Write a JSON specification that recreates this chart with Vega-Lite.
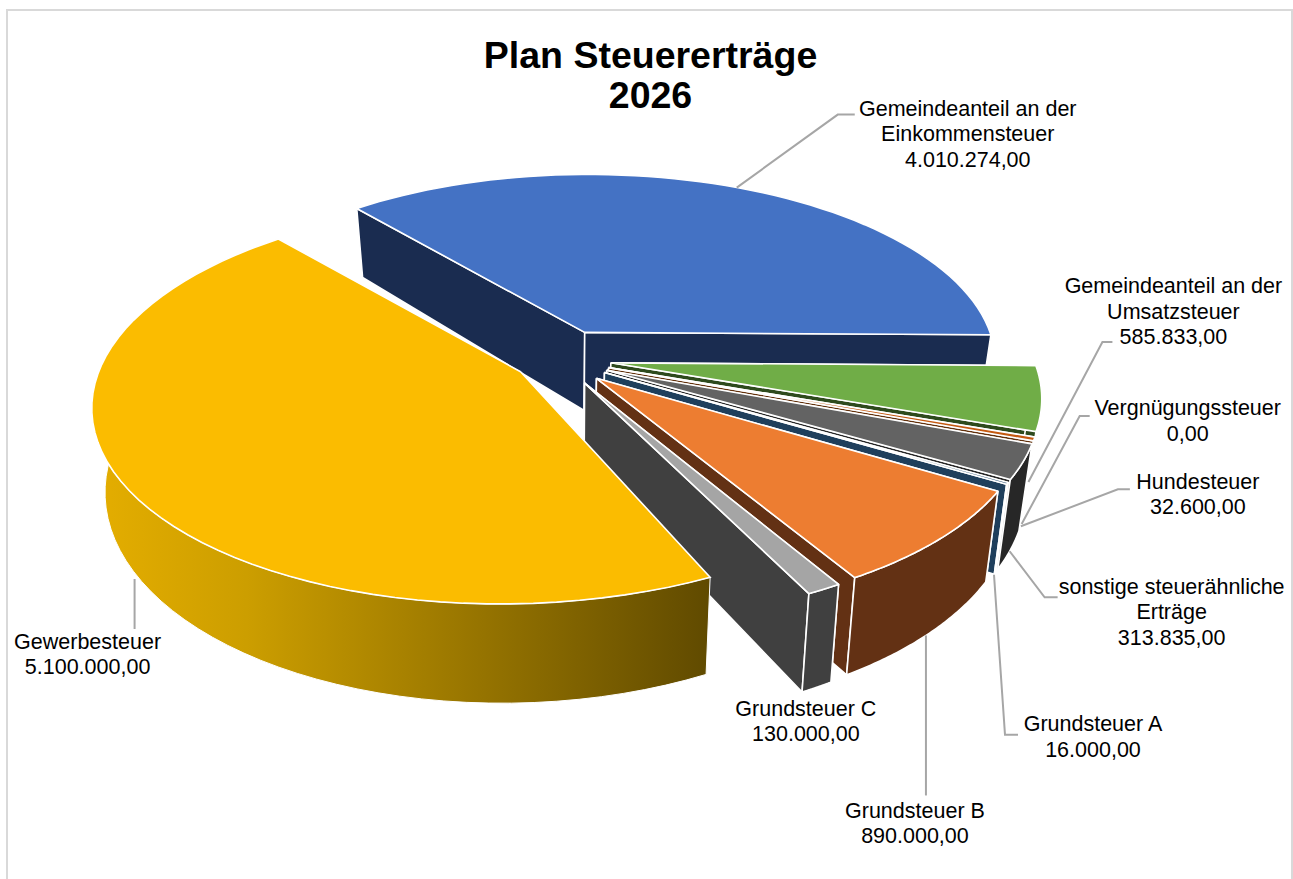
{
"$schema":"https://vega.github.io/schema/vega-lite/v6.json",
"width":1285,"height":871,
"autosize":{"type":"none"},
"padding":{"left":7,"top":10,"right":1,"bottom":-2},
"background":"white",
"config":{"view":{"stroke":"#d9d9d9","strokeWidth":2},"locale":{"number":{"decimal":",","thousands":".","grouping":[3],"currency":["","€"]}}},
"title":{"text":["Plan Steuererträge","2026"],"font":"Liberation Sans","fontSize":37.5,"fontWeight":"bold","color":"#000000","anchor":"middle","frame":"group","baseline":"top","lineHeight":40,"offset":0,"dx":1,"dy":105},
"params":[
{"name":"cx","value":565},{"name":"cy","value":352},{"name":"rx","value":405.6},{"name":"ry","value":188.6},
{"name":"k","value":0.18},{"name":"e","value":0.15},{"name":"h","value":80},{"name":"lean","value":0.028},{"name":"startDeg","value":-38},{"name":"N","value":60}
],
"data":{"values":[
{"name":"Gemeindeanteil an der Einkommensteuer","label":"Gemeindeanteil an der\nEinkommensteuer","value":4010274},
{"name":"Gemeindeanteil an der Umsatzsteuer","label":"Gemeindeanteil an der\nUmsatzsteuer","value":585833},
{"name":"Vergnügungssteuer","label":"Vergnügungssteuer","value":0},
{"name":"Hundesteuer","label":"Hundesteuer","value":32600},
{"name":"sonstige steuerähnliche Erträge","label":"sonstige steuerähnliche\nErträge","value":313835},
{"name":"Grundsteuer A","label":"Grundsteuer A","value":16000},
{"name":"Grundsteuer B","label":"Grundsteuer B","value":890000},
{"name":"Grundsteuer C","label":"Grundsteuer C","value":130000},
{"name":"Gewerbesteuer","label":"Gewerbesteuer","value":5100000}
]},
"transform":[
{"joinaggregate":[{"op":"sum","field":"value","as":"total"}]},
{"window":[{"op":"sum","field":"value","as":"cum"}],"ignorePeers":true},
{"calculate":"startDeg+360*(datum.cum-datum.value)/datum.total","as":"a0"},
{"calculate":"startDeg+360*datum.cum/datum.total","as":"a1"},
{"calculate":"(datum.a0+datum.a1)/2*PI/180","as":"m"},
{"calculate":"1/(1+k*(1+e)*cos(datum.m))","as":"as"},
{"calculate":"cx+rx*(1+e)*sin(datum.m)*datum.as*(1-lean)","as":"ax"},
{"calculate":"cy-ry*(1+e)*cos(datum.m)*datum.as+h*datum.as","as":"ay"},
{"calculate":"{'Gemeindeanteil an der Einkommensteuer':[-3,-69,98,-142,115,-142,228,-121.5],'Gemeindeanteil an der Umsatzsteuer':[0,0,74,-140,84,-140,145,-169],'Vergnügungssteuer':[0,0,58,-108,68,-108,166,-102],'Hundesteuer':[0,0,97,-37,109,-37,177,-31],'sonstige steuerähnliche Erträge':[0,0,35,46,48,46,162,62],'Grundsteuer A':[0,0,11,160,24,160,99,163.5],'Grundsteuer B':[0,0,0,160,0,160,-11,189],'Grundsteuer C':[0,30,0,30,0,30,-2,32.5],'Gewerbesteuer':[5,13,5,63,5,63,-42,89.5]}[datum.name]","as":"off"},
{"calculate":"datum.label+'\\n'+format(datum.value,',.2f')","as":"caption"},
{"calculate":"['faceS','faceE','outer','top','leader','label']","as":"parts"},
{"flatten":["parts"],"as":["part"]},
{"calculate":"sequence(0,2*N+3)","as":"idx"},
{"flatten":["idx"],"as":["i"]},
{"filter":"datum.part=='top'?datum.i<=N+2:datum.part=='outer'?datum.i<=2*N+2:datum.part=='label'?datum.i==0:datum.part=='leader'?datum.i<=2:datum.i<=4"},
{"calculate":"datum.part=='top'?((datum.i==0||datum.i==N+2)?0:1):datum.part=='outer'?1:((datum.i==0||datum.i>=3)?0:1)","as":"r"},
{"calculate":"datum.part=='top'?(datum.i-1)/N:datum.part=='outer'?(datum.i<=N?datum.i/N:datum.i==2*N+2?0:(2*N+1-datum.i)/N):datum.part=='faceS'?0:1","as":"t"},
{"calculate":"datum.part=='outer'?((datum.i>N&&datum.i<2*N+2)?1:0):(datum.part=='faceS'||datum.part=='faceE')?((datum.i==2||datum.i==3)?1:0):0","as":"z"},
{"calculate":"(datum.a0+datum.t*(datum.a1-datum.a0))*PI/180","as":"a0r"},
{"calculate":"datum.a0r-2.2*(1-sin(datum.a0r))*PI/180","as":"a"},
{"calculate":"(datum.r==0?0.8:1)*e*sin(datum.m)+datum.r*sin(datum.a)-(datum.r==0?0.005:0)","as":"pa"},
{"calculate":"e*cos(datum.m)+datum.r*cos(datum.a)","as":"pb"},
{"calculate":"1/(1+k*datum.pb)","as":"s"},
{"calculate":"datum.part=='leader'?datum.ax+datum.off[2*datum.i]:datum.part=='label'?datum.ax+datum.off[6]:cx+rx*datum.pa*datum.s*(1-lean*datum.z)","as":"px"},
{"calculate":"datum.part=='leader'?datum.ay+datum.off[2*datum.i+1]:datum.part=='label'?datum.ay+datum.off[7]-(length(split(datum.caption,'\\n'))-1)*12.75:cy-ry*datum.pb*datum.s+h*datum.z*datum.s+(datum.r==0?5:0)","as":"py"},
{"calculate":"datum.part=='top'?datum.name:datum.name+' (Seite)'","as":"shade"},
{"calculate":"datum.name+'|'+datum.part","as":"key"}
],
"encoding":{
"x":{"field":"px","type":"quantitative","scale":{"domain":[7,1292],"nice":false,"zero":false},"axis":null},
"y":{"field":"py","type":"quantitative","scale":{"domain":[881,10],"nice":false,"zero":false},"axis":null}
},
"layer":[
{"transform":[{"filter":"datum.value>0&&datum.name!='Gewerbesteuer'&&datum.part!='leader'&&datum.part!='label'&&!(datum.part=='outer'&&datum.name=='Gemeindeanteil an der Einkommensteuer')"}],
"mark":{"type":"line","filled":true,"stroke":"white","strokeWidth":1.6,"strokeJoin":"round","clip":false},
"encoding":{"detail":{"field":"key"},"order":{"field":"i","type":"quantitative"},
"fill":{"field":"shade","type":"nominal","legend":null,"scale":{
"domain":["Gemeindeanteil an der Einkommensteuer","Gemeindeanteil an der Umsatzsteuer","Hundesteuer","sonstige steuerähnliche Erträge","Grundsteuer A","Grundsteuer B","Grundsteuer C",
"Gemeindeanteil an der Einkommensteuer (Seite)","Gemeindeanteil an der Umsatzsteuer (Seite)","Hundesteuer (Seite)","sonstige steuerähnliche Erträge (Seite)","Grundsteuer A (Seite)","Grundsteuer B (Seite)","Grundsteuer C (Seite)"],
"range":["#4472C4","#70AD47","#C55A11","#636363","#264E70","#ED7D31","#A5A5A5","#1A2C50","#2E4A1D","#63310C","#272727","#1F3F5C","#633114","#404040"]}}}},
{"transform":[{"filter":"datum.name=='Gewerbesteuer'&&datum.part=='outer'"}],
"mark":{"type":"line","filled":true,"stroke":"white","strokeWidth":1,"fill":{"gradient":"linear","x1":0,"x2":1,"y1":0,"y2":0,"stops":[{"offset":0,"color":"#E5AE00"},{"offset":0.25,"color":"#CC9E00"},{"offset":0.6,"color":"#9A7700"},{"offset":1,"color":"#604A00"}]}},
"encoding":{"detail":{"field":"key"},"order":{"field":"i","type":"quantitative"}}},
{"transform":[{"filter":"datum.name=='Gewerbesteuer'&&datum.part=='top'"}],
"mark":{"type":"line","filled":true,"stroke":"white","strokeWidth":1.6,"fill":"#FBBC00"},
"encoding":{"detail":{"field":"key"},"order":{"field":"i","type":"quantitative"}}},
{"transform":[{"filter":"datum.part=='leader'&&datum.name!='Grundsteuer C'"}],
"mark":{"type":"line","stroke":"#A6A6A6","strokeWidth":2},
"encoding":{"detail":{"field":"key"},"order":{"field":"i","type":"quantitative"}}},
{"transform":[{"filter":"datum.part=='label'"}],
"mark":{"type":"text","font":"Liberation Sans","fontSize":21.5,"lineBreak":"\n","lineHeight":25.5,"align":"center","baseline":"middle","color":"#000000"},
"encoding":{"text":{"field":"caption"}}}
]
}
